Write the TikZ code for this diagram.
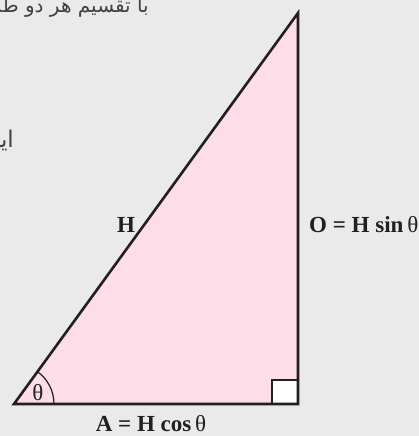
\documentclass[tikz,border=0pt]{standalone}
\usepackage{fontspec}
\setmainfont{Liberation Serif}
\newfontfamily\arabicfont[Script=Arabic]{DejaVu Sans}
\TeXXeTstate=1
\definecolor{bgcol}{HTML}{EAEAEA}
\definecolor{pinkfill}{HTML}{FCDDE8}
\definecolor{inkcol}{HTML}{231F20}
\begin{document}
\begin{tikzpicture}[x=1pt,y=-1pt,
  edge/.style={draw=inkcol,line width=2.6pt,line join=miter},
  lbl/.style={text=inkcol,font=\fontsize{23}{25}\selectfont\bfseries,inner sep=0pt},
  fa/.style={text=inkcol!85,font=\arabicfont\fontsize{20}{24}\selectfont,inner sep=0pt}]
\useasboundingbox (0,0) rectangle (419,436);
\clip (0,0) rectangle (419,436);
\fill[bgcol] (0,0) rectangle (419,436);
% vertices
\coordinate (B) at (14,404);
\coordinate (C) at (298,404);
\coordinate (T) at (298,13);
\fill[pinkfill] (B) -- (C) -- (T) -- cycle;
% right-angle box
\draw[inkcol,line width=1.2pt,fill=white] (272,404) rectangle (298,380);
% angle arc
\draw[inkcol,line width=1.2pt] (54,404) arc[start angle=0,end angle=-54,radius=40];
\draw[edge] (B) -- (C) -- (T) -- cycle;
% labels
\node[lbl,anchor=base] (theta) at (38,400) {\mdseries θ};
\node[lbl,anchor=base] (A) at (151,431) {A = H cos\,{\mdseries θ}};
\node[lbl,anchor=base west] (O) at (309,232) {O = H sin\,{\mdseries θ}};
\node[lbl,anchor=base] (H) at (126,232) {H};
% cropped page text
\node[fa,anchor=base east] (t1) at (149,13) {\beginR با تقسیم هر دو طرف\endR};
\node[fa,anchor=base east,font=\arabicfont\fontsize{23}{26}\selectfont] (t2) at (14,147) {\beginR این\endR};
\end{tikzpicture}
\end{document}
